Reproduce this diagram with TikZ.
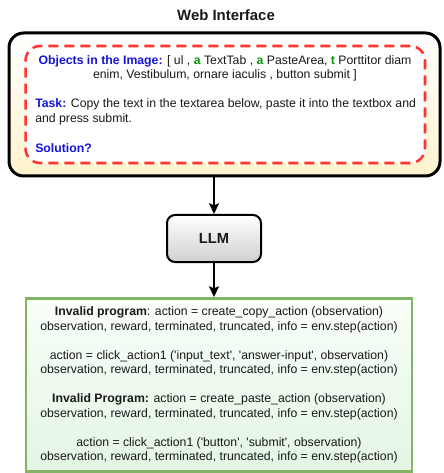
\documentclass[tikz,border=0pt]{standalone}
\usepackage{fontspec}
\setmainfont{Liberation Sans}
\usetikzlibrary{arrows.meta}
\definecolor{cream}{RGB}{255,243,205}
\definecolor{dashred}{RGB}{255,51,51}
\definecolor{objblue}{RGB}{20,20,215}
\definecolor{objgreen}{RGB}{10,150,10}
\definecolor{llmgray}{RGB}{208,208,208}
\definecolor{gborder}{RGB}{130,179,102}
\definecolor{gfilltop}{RGB}{248,255,248}
\definecolor{gfillbot}{RGB}{228,245,228}
\definecolor{txt}{RGB}{25,25,25}
\newcommand\bodyfont{\fontsize{9.2}{10.9}\selectfont}
\tikzset{
  outerbox/.style={draw=black, line width=2.25pt, rounded corners=11pt,
    top color=white, bottom color=cream, minimum width=323.25pt, minimum height=107.25pt, inner sep=0pt},
  redbox/.style={draw=dashred, line width=1.9pt, dash pattern=on 7.5pt off 4.5pt, rounded corners=11pt,
    fill=white, minimum width=299.6pt, minimum height=87.75pt, inner sep=0pt},
  llmbox/.style={draw=black, line width=1.5pt, rounded corners=6pt,
    top color=white, bottom color=llmgray, minimum width=70.5pt, minimum height=35.25pt,
    font=\fontsize{11}{13}\selectfont\bfseries, text=txt},
  greenbox/.style={draw=gborder, line width=1.9pt, top color=gfilltop, bottom color=gfillbot,
    minimum width=289.5pt, minimum height=130.1pt, align=center, font=\bodyfont, text=txt, inner sep=0pt},
  plain/.style={inner sep=0pt, font=\bodyfont, text=txt},
  arr/.style={draw=black, line width=1.5pt, -{Stealth[length=8pt,width=7.5pt,inset=1.5pt]}}
}
\begin{document}
\begin{tikzpicture}[x=0.75pt,y=-0.75pt]
\useasboundingbox (0,0) rectangle (443,473);
\node[plain, font=\fontsize{11.2}{13}\selectfont\bfseries] (title) at (226,15) {Web Interface};
\node[outerbox] (outer) at (224.5,104.5) {};
\node[redbox] (red) at (225.25,104.5) {};
\node[plain, align=center] (objects) at (225,68.5) {\textcolor{objblue}{\textbf{Objects in the Image:}} [ ul , \textcolor{objgreen}{\textbf{a}} TextTab , \textcolor{objgreen}{\textbf{a}} PasteArea, \textcolor{objgreen}{\textbf{t}} Porttitor diam\\enim, Vestibulum, ornare iaculis , button submit ]};
\node[plain, align=left, anchor=west] (task) at (35,112) {\textcolor{objblue}{\textbf{Task:}} Copy the text in the textarea below, paste it into the textbox and\\and press submit.};
\node[plain, anchor=west, font=\bodyfont\bfseries, text=objblue] (solution) at (35,148) {Solution?};
\node[llmbox] (llm) at (214,238.5) {LLM};
\node[greenbox] (green) at (219,385) {\textbf{Invalid program}: action = create\_copy\_action (observation)\\
observation, reward, terminated, truncated, info = env.step(action)\\[10.9pt]
action = click\_action1 (\textquotesingle input\_text\textquotesingle, \textquotesingle answer-input\textquotesingle, observation)\\
observation, reward, terminated, truncated, info = env.step(action)\\[10.9pt]
\textbf{Invalid Program:} action = create\_paste\_action (observation)\\
observation, reward, terminated, truncated, info = env.step(action)\\[10.9pt]
action = click\_action1 (\textquotesingle button\textquotesingle, \textquotesingle submit\textquotesingle, observation)\\
observation, reward, terminated, truncated, info = env.step(action)};
\draw[arr] (llm.north |- outer.south) -- (llm.north);
\draw[arr] (llm.south) -- (llm.south |- green.north);
\end{tikzpicture}
\end{document}
